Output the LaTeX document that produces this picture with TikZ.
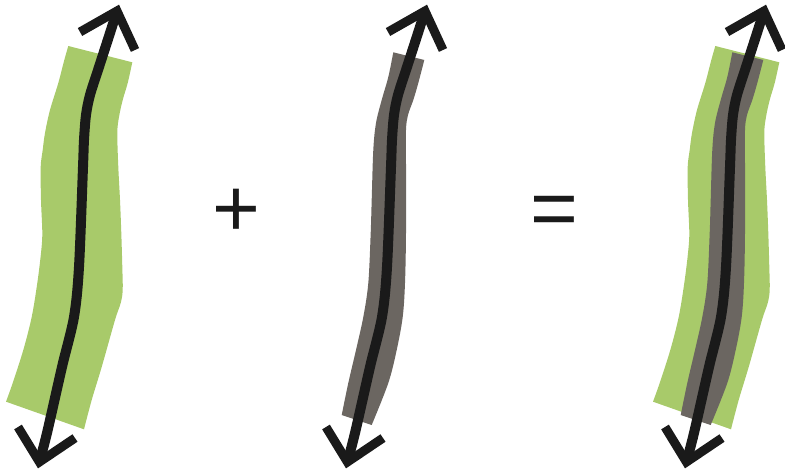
\documentclass[tikz,border=0pt]{standalone}
\usepackage{fontspec}
\setmainfont{Liberation Sans}
\definecolor{bandgreen}{RGB}{168,202,106}
\definecolor{bandgray}{RGB}{107,102,97}
\definecolor{inkblack}{RGB}{26,26,26}
\newcommand\greenband{%
  \fill[bandgreen] (68.3,46) -- plot[smooth,tension=0.55] coordinates {(132.3,62.3) (127.7,83) (122.7,100) (119,117) (117.3,133) (118.3,167) (120,200) (121.3,233) (122.3,267) (122.7,290) (120.7,303) (115,320) (101.7,367) (91.7,400) (84,429.3)}
  -- plot[smooth,tension=0.55] coordinates {(6,401.7) (12.7,383) (23.3,350) (31.7,317) (37.3,283) (41,253) (42.3,233) (41,200) (40.7,167) (42.7,150) (45,133) (50,110) (58.3,83) (64.3,60) (68.3,46)} -- cycle;}
\newcommand\grayband{%
  \fill[bandgray] (393.3,52.3) -- plot[smooth,tension=0.55] coordinates {(424.3,60) (418.3,83) (413.3,100) (408,115) (406,130) (406,167) (406,233) (405,283) (402.7,317) (396.7,350) (388.3,383) (371.7,425)}
  -- plot[smooth,tension=0.55] coordinates {(341.7,415) (348.3,383) (356,350) (363.3,317) (368.3,283) (370.7,233) (371.7,200) (373.3,150) (376,123) (381.7,100) (388.3,77) (393.3,52.3)} -- cycle;}
\newcommand\blackarrow{%
  \draw[inkline,line width=10pt] plot[smooth,tension=0.5] coordinates {(117,11) (110,33) (99,67) (90,95) (86,115) (84,140) (83,167) (79,267) (74,317) (62,367) (47,433) (39.4,462)};
  \draw[inkline] (80,32) -- (117,11) -- (135,50);
  \draw[inkline] (18,427) -- (39.4,462) -- (75,438);}
\begin{document}
\begin{tikzpicture}[x=1pt,y=-1pt,
  inkline/.style={draw=inkblack,line width=9pt,line join=miter,miter limit=10},
  signtext/.style={font=\fontsize{82}{82}\selectfont,text=inkblack,inner sep=0pt,anchor=base}]
\useasboundingbox (0,0) rectangle (785,473);
% panel 1
\greenband
\blackarrow
% plus
\node[signtext] (plus) at (236,237) {+};
% panel 2
\grayband
\begin{scope}[xshift=308pt]
\blackarrow
\end{scope}
% equals
\node[signtext] (equals) at (554,237) {=};
% panel 3
\begin{scope}[xshift=647pt]
\greenband
\end{scope}
\begin{scope}[xshift=339pt]
\grayband
\end{scope}
\begin{scope}[xshift=647pt]
\blackarrow
\end{scope}
\end{tikzpicture}
\end{document}
